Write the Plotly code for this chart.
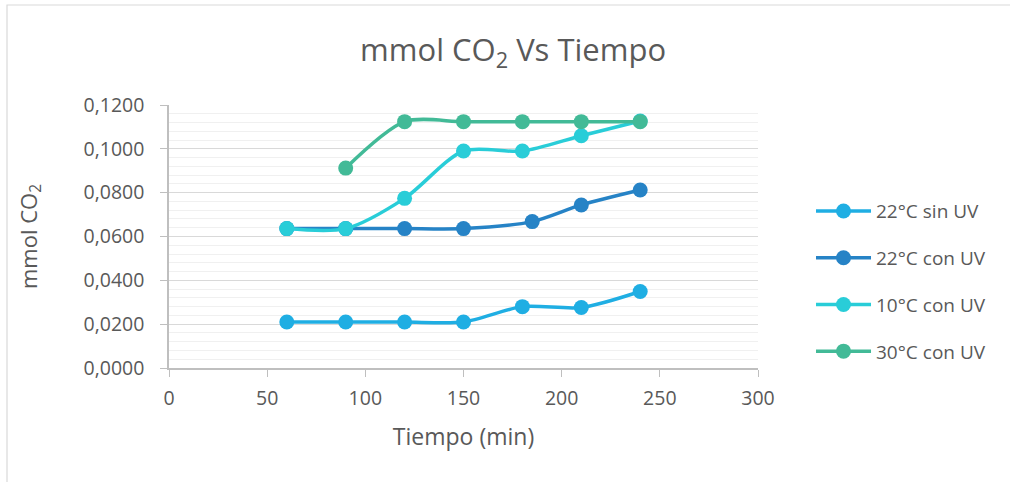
import plotly.graph_objects as go

series_names = ["22°C sin UV", "22°C con UV", "10°C con UV", "30°C con UV"]
x_22_sin = [60, 90, 120, 150, 180, 210, 240]
y_22_sin = [0.0210, 0.0210, 0.0210, 0.0210, 0.0280, 0.0276, 0.0349]
x_22_con = [60, 90, 120, 150, 185, 210, 240]
y_22_con = [0.0636, 0.0636, 0.0636, 0.0636, 0.0668, 0.0744, 0.0812]
x_10_con = [60, 90, 120, 150, 180, 210, 240]
y_10_con = [0.0636, 0.0636, 0.0774, 0.0990, 0.0990, 0.1060, 0.1127]
x_30_con = [90, 120, 150, 180, 210, 240]
y_30_con = [0.0912, 0.1124, 0.1124, 0.1124, 0.1124, 0.1124]
colors = ["#1FAEE3", "#2683C6", "#29CDD8", "#42BA97"]

xs = [x_22_sin, x_22_con, x_10_con, x_30_con]
ys = [y_22_sin, y_22_con, y_10_con, y_30_con]

FONT = "'Open Sans', Lato, sans-serif"
TXT = "#595959"

fig = go.Figure()
for i, name in enumerate(series_names):
    fig.add_trace(go.Scatter(
        x=xs[i], y=ys[i], name=name, mode="lines+markers",
        line=dict(color=colors[i], width=3.5, shape="spline", smoothing=0.8),
        marker=dict(color=colors[i], size=15),
        legendgroup=name,
    ))

fig.update_layout(
    width=1010, height=482,
    margin=dict(l=169, r=252, t=105, b=114),
    paper_bgcolor="white", plot_bgcolor="white",
    separators=", ",
    font=dict(family=FONT, color=TXT, size=19),
    title=dict(text="mmol CO<sub>2</sub> Vs Tiempo", x=0.508, xanchor="center",
               y=0.895, yanchor="middle", font=dict(size=31, color=TXT, family=FONT)),
    showlegend=True,
    legend=dict(x=1.09, xanchor="left", y=0.33, yanchor="middle",
                font=dict(size=19, color=TXT, family=FONT),
                tracegroupgap=19, itemwidth=55, bgcolor="rgba(0,0,0,0)"),
    xaxis=dict(range=[0, 300], dtick=50, tick0=0, showgrid=False,
               showline=True, linecolor="#BFBFBF", linewidth=1.5,
               ticks="outside", ticklen=7, tickcolor="#BFBFBF",
               ticklabelstandoff=5,
               tickfont=dict(size=19.5, color=TXT),
               title=dict(text="Tiempo (min)", font=dict(size=23, color=TXT), standoff=19),
               zeroline=False),
    yaxis=dict(range=[0, 0.12], dtick=0.02, tick0=0, tickformat=".4f",
               showgrid=True, gridcolor="#D9D9D9", gridwidth=1.2,
               minor=dict(dtick=0.004, showgrid=True, gridcolor="#F0F0F0", gridwidth=1),
               showline=True, linecolor="#BFBFBF", linewidth=1.5,
               ticks="outside", ticklen=7, tickcolor="#BFBFBF",
               ticklabelstandoff=12,
               tickfont=dict(size=19.5, color=TXT),
               title=dict(text="mmol CO<sub>2</sub>", font=dict(size=22, color=TXT), standoff=40),
               zeroline=False),
)

# outer chart border
W, H = 589.0, 263.0
fig.add_shape(type="rect", xref="paper", yref="paper",
              x0=(7 - 169) / W, x1=(1030 - 169) / W,
              y0=(368 - 500) / H, y1=(368 - 5) / H,
              line=dict(color="#D9D9D9", width=1.2), fillcolor="rgba(0,0,0,0)", layer="below")

fig.write_html("out.html")
